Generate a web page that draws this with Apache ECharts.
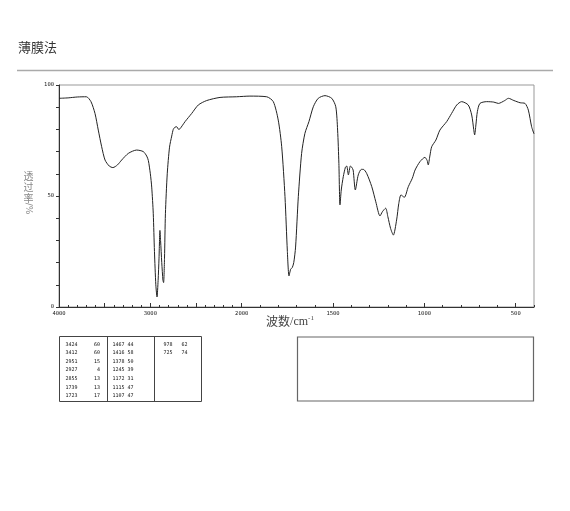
<!DOCTYPE html>
<html>
<head>
<meta charset="utf-8">
<title>薄膜法</title>
<script src="https://cdn.jsdelivr.net/npm/echarts@6/dist/echarts.min.js"></script>
<style>
	html, body { margin: 0; padding: 0; background: #fff; }
	#chart { width: 570px; height: 511px; }
</style>
</head>
<body>
<div id="chart"></div>
<script>
// 波数 (cm-1) 与 透过率 (%)
var wavenumbers = [4000, 3900, 3800, 3700, 3650, 3606, 3570, 3533, 3496, 3450, 3410, 3360, 3314, 3241, 3150, 3077, 3040, 3022, 3000, 2985,
	2968, 2955, 2940, 2927, 2915, 2905, 2895, 2888, 2875, 2862, 2855, 2845, 2835, 2815, 2790, 2766, 2749, 2730, 2712, 2690,
	2675, 2620, 2547, 2475, 2383, 2237, 2055, 1955, 1863, 1827, 1800, 1781, 1763, 1750, 1741, 1732, 1723, 1715, 1705, 1690,
	1672, 1654, 1632, 1608, 1581, 1544, 1507, 1485, 1475, 1468, 1462, 1455, 1444, 1432, 1425, 1416, 1405, 1398, 1390, 1378,
	1362, 1345, 1334, 1316, 1288, 1266, 1243, 1230, 1212, 1200, 1185, 1170, 1152, 1140, 1128, 1110, 1088, 1066, 1051, 1024,
	997, 985, 979, 970, 960, 937, 915, 878, 851, 823, 796, 760, 741, 730, 725, 718, 710, 696, 659, 620,
	595, 560, 540, 510, 476, 449, 431, 413, 400];
var transmittance = [94, 94.2, 94.6, 94.7, 92.5, 87.2, 79.7, 72.2, 66.2, 63.5, 62.8, 64, 66.2, 69.2, 70.7, 70, 68, 66, 60, 54,
	42, 25, 10, 4.5, 12, 22, 34.5, 30, 20, 12, 11, 22, 42, 60, 72, 77, 80, 81, 81.2, 80,
	80.3, 83.5, 87.2, 91, 93, 94.4, 94.7, 95, 94.7, 92.5, 84.2, 72.2, 49.7, 25, 14, 17, 17.8, 20, 27, 49.7,
	69.2, 78.2, 83.5, 90.2, 94, 95.2, 94, 90.2, 79.7, 64.7, 46, 52.7, 58.7, 63, 63.5, 59.5, 63.5, 63, 61.7, 52.7,
	59.5, 62, 62, 60.2, 54.2, 47.4, 41, 42.9, 44.5, 40.7, 35.4, 32.4, 39.2, 46.7, 50.5, 49.4, 54.2, 58, 61.7, 65.5,
	67.4, 66, 64, 68, 72.2, 75.2, 79.7, 83.5, 87.2, 91, 92.5, 91, 86.5, 80, 77.5, 82, 88, 91.7, 92.5, 92.3,
	91.7, 93, 94, 93, 92, 91.7, 88.7, 81.2, 78];

// 坐标轴刻度
var xLabelTicks = [4000, 3000, 2000, 1500, 1000, 500];
var yLabelTicks = [0, 50, 100];

// 峰值表
var peakWn = [3424, 3412, 2951, 2927, 2855, 1739, 1723, 1467, 1416, 1378, 1245, 1172, 1115, 1107, 978, 725];
var peakT = [60, 60, 15, 4, 13, 13, 17, 44, 58, 50, 39, 31, 47, 47, 62, 74];

// 2000 以下刻度放大一倍
function toPos(w) { return w >= 2000 ? 4000 - w : 2000 + (2000 - w) * 2; }
function toWn(p) { return p <= 2000 ? 4000 - p : 2000 - (p - 2000) / 2; }

var seriesData = wavenumbers.map(function (w, i) { return [toPos(w), transmittance[i]]; });

var majorTicks = [], minorTicks = [];
for (var w = 4000; w >= 400; w -= 100) {
	if (w % 500 === 0) majorTicks.push(toPos(w)); else minorTicks.push(toPos(w));
}
var yTicks = [];
for (var v = 0; v <= 100; v += 10) yTicks.push(v);

var tickFont = { fontSize: 5.5, fontFamily: 'DejaVu Sans Mono', color: '#222' };

// 表格
var tableEls = [];
var tblTop = 336, tblBottom = 401;
var colText = [[65.5, 100], [112.5, 133.5], [163.5, 187.5]];
tableEls.push({ type: 'rect', shape: { x: 59.5, y: tblTop + 0.5, width: 142, height: tblBottom - tblTop }, style: { fill: 'none', stroke: '#444', lineWidth: 1 } });
tableEls.push({ type: 'line', shape: { x1: 107.5, y1: tblTop, x2: 107.5, y2: tblBottom }, style: { stroke: '#444', lineWidth: 1 } });
tableEls.push({ type: 'line', shape: { x1: 154.5, y1: tblTop, x2: 154.5, y2: tblBottom }, style: { stroke: '#444', lineWidth: 1 } });
peakWn.forEach(function (w, i) {
	var c = Math.floor(i / 7), r = i % 7;
	var y = 344.5 + r * 8.55;
	tableEls.push({ type: 'text', x: colText[c][0], y: y, style: { text: String(w), fontSize: 5, fontFamily: 'DejaVu Sans Mono', fill: '#111', verticalAlign: 'middle', align: 'left' } });
	tableEls.push({ type: 'text', x: colText[c][1], y: y, style: { text: String(peakT[i]), fontSize: 5, fontFamily: 'DejaVu Sans Mono', fill: '#111', verticalAlign: 'middle', align: 'right' } });
});
tableEls.push({ type: 'rect', shape: { x: 297.5, y: 337, width: 236, height: 64 }, style: { fill: 'none', stroke: '#666', lineWidth: 1.2 } });

// 纵轴名称（竖排）
var yNameEls = ['透', '过', '率'].map(function (ch, i) {
	return { type: 'text', x: 28.5, y: 176.5 + i * 10.8, style: { text: ch, fontSize: 10, fontFamily: 'Noto Sans CJK SC', fill: '#888', align: 'center', verticalAlign: 'middle' } };
});
yNameEls.push({ type: 'text', x: 28.5, y: 208.5, rotation: -Math.PI / 2, style: { text: '/%', fontSize: 9, fontFamily: 'DejaVu Sans', fill: '#888', align: 'center', verticalAlign: 'middle' } });

var chart = echarts.init(document.getElementById('chart'), null, { renderer: 'canvas' });
var option = {
	animation: false,
	grid: {
		left: 59, right: 36, top: 85, bottom: 204,
		show: true, borderColor: '#999', borderWidth: 1, backgroundColor: 'transparent'
	},
	xAxis: [{
		type: 'value', min: 0, max: 5200, position: 'bottom',
		axisLine: { lineStyle: { color: '#333', width: 1 } },
		axisTick: { show: true, inside: true, length: 4, customValues: majorTicks, lineStyle: { color: '#333' } },
		axisLabel: Object.assign({ customValues: xLabelTicks.map(toPos), margin: 4, formatter: function (p) { return String(Math.round(toWn(p))); } }, tickFont),
		splitLine: { show: false }
	}, {
		type: 'value', min: 0, max: 5200, position: 'bottom',
		axisLine: { show: false },
		axisTick: { show: true, inside: true, length: 2, customValues: minorTicks, lineStyle: { color: '#333' } },
		axisLabel: { show: false },
		splitLine: { show: false }
	}],
	yAxis: {
		type: 'value', min: 0, max: 100,
		axisLine: { show: true, lineStyle: { color: '#333', width: 1 } },
		axisTick: { show: true, inside: false, length: 3, customValues: yTicks, lineStyle: { color: '#333' } },
		axisLabel: Object.assign({ customValues: yLabelTicks, margin: 5 }, tickFont),
		splitLine: { show: false }
	},
	series: [{
		type: 'line', xAxisIndex: 0, data: seriesData,
		showSymbol: false, smooth: 0.25,
		lineStyle: { color: '#222', width: 1 }
	}],
	graphic: [
		{ type: 'text', left: 18, top: 41, style: { text: '薄膜法', fontSize: 13, fontFamily: 'Noto Sans CJK SC', fill: '#333' } },
		{ type: 'line', shape: { x1: 17, y1: 70.5, x2: 553, y2: 70.5 }, style: { stroke: '#aaa', lineWidth: 1.5 } },
		{
			type: 'text', x: 290, y: 321.5,
			style: {
				text: '{a|波数}{b|/cm}{c|-1}', align: 'center', verticalAlign: 'middle',
				rich: {
					a: { fontSize: 12, fontFamily: 'Noto Sans CJK SC', fill: '#444' },
					b: { fontSize: 12, fontFamily: 'Liberation Serif', fill: '#444' },
					c: { fontSize: 7, fontFamily: 'Liberation Serif', fill: '#444', padding: [0, 0, 6, 0] }
				}
			}
		}
	].concat(yNameEls, tableEls)
};
chart.setOption(option);
</script>
</body>
</html>
